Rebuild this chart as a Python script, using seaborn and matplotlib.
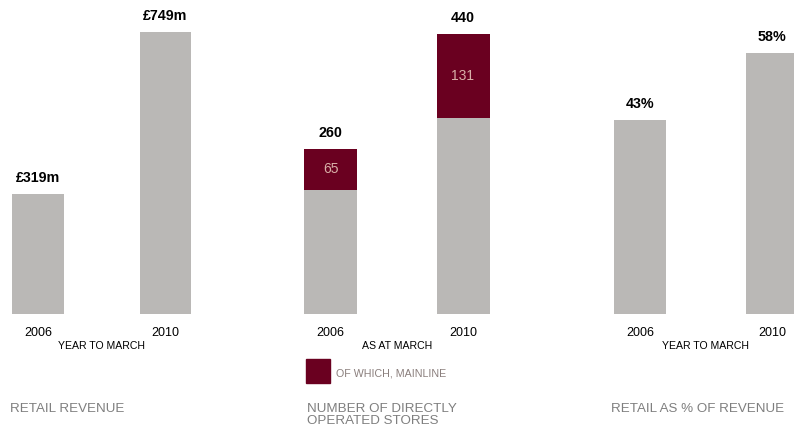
import matplotlib
matplotlib.use("Agg")
import matplotlib.pyplot as plt
import seaborn as sns
import pandas as pd

years = ["2006", "2010"]
revenue = [319, 749]
stores_total = [260, 440]
stores_mainline = [65, 131]
retail_pct = [43, 58]

revenue_labels = ["£319m", "£749m"]
stores_labels = ["260", "440"]
pct_labels = ["43%", "58%"]

GREY = "#bab8b6"
MAROON = "#6a0020"
TITLE_GREY = "#7f7f7f"

sns.set_theme(style="white")
plt.rcParams["font.family"] = ["Liberation Sans", "DejaVu Sans"]

W, H = 794, 429
fig = plt.figure(figsize=(W / 100, H / 100), dpi=100)

bottom_px = 314


def finish(ax, xlim, ylim, labels, values, sub):
    for s in ax.spines.values():
        s.set_visible(False)
    ax.set_facecolor("none")
    ax.set_xlim(*xlim)
    ax.set_ylim(*ylim)
    ax.set_yticks([])
    ax.set_xlabel("")
    ax.set_ylabel("")
    ax.tick_params(axis="x", length=0, pad=9, labelsize=9, labelcolor="black")
    for i, (lab, v) in enumerate(zip(labels, values)):
        ax.annotate(lab, (i, v), xytext=(0, 6.5), textcoords="offset points",
                    ha="center", va="bottom", fontsize=10.3, fontweight="bold", color="black")
    ax.text(0.5, -0.103, sub, transform=ax.get_xaxis_transform(), ha="center", va="center",
            fontsize=7.6, color="black")


bar_kw = dict(saturation=1, width=0.4, linewidth=0, edgecolor="none")

# Panel 1
ax1 = fig.add_axes([0, (H - bottom_px) / H, 260 / W, bottom_px / H])
df1 = pd.DataFrame({"year": years, "value": revenue})
sns.barplot(data=df1, x="year", y="value", color=GREY, ax=ax1, **bar_kw)
finish(ax1, (-38 / 127.5, (260 - 38) / 127.5), (0, 833), revenue_labels, revenue, "YEAR TO MARCH")

# Panel 2
ax2 = fig.add_axes([290 / W, (H - bottom_px) / H, 270 / W, bottom_px / H])
other = [t - m for t, m in zip(stores_total, stores_mainline)]
df2 = pd.DataFrame({"year": years, "total": stores_total, "other": other})
sns.barplot(data=df2, x="year", y="total", color=MAROON, ax=ax2, **bar_kw)
sns.barplot(data=df2, x="year", y="other", color=GREY, ax=ax2, **bar_kw)
finish(ax2, ((290 - 330.5) / 132.5, (560 - 330.5) / 132.5), (0, 494), stores_labels, stores_total,
       "AS AT MARCH")
for i, (t, m) in enumerate(zip(stores_total, stores_mainline)):
    ax2.text(i, t - m / 2, str(m), ha="center", va="center", fontsize=10, color="#d8b0a8")

# Panel 3
ax3 = fig.add_axes([590 / W, (H - bottom_px) / H, 204 / W, bottom_px / H])
df3 = pd.DataFrame({"year": years, "value": retail_pct})
sns.barplot(data=df3, x="year", y="value", color=GREY, ax=ax3, **bar_kw)
finish(ax3, ((590 - 640) / 132, (794 - 640) / 132), (0, 69.7), pct_labels, retail_pct, "YEAR TO MARCH")

# Legend
fig.patches.append(plt.Rectangle((306 / W, 1 - 383 / H), 24 / W, 24 / H,
                                 transform=fig.transFigure, color=MAROON, figure=fig))
fig.text(336 / W, 1 - 374 / H, "OF WHICH, MAINLINE", ha="left", va="center",
         fontsize=7.7, color="#8a7e7c")

# Panel titles
fig.text(10 / W, 1 - 409 / H, "RETAIL REVENUE", ha="left", va="center", fontsize=9.6, color=TITLE_GREY)
fig.text(307 / W, 1 - 415 / H, "NUMBER OF DIRECTLY\nOPERATED STORES", ha="left", va="center",
         fontsize=9.6, color=TITLE_GREY, linespacing=1.05)
fig.text(611 / W, 1 - 409 / H, "RETAIL AS % OF REVENUE", ha="left", va="center", fontsize=9.6,
         color=TITLE_GREY)

fig.savefig("out.png", dpi=100)
